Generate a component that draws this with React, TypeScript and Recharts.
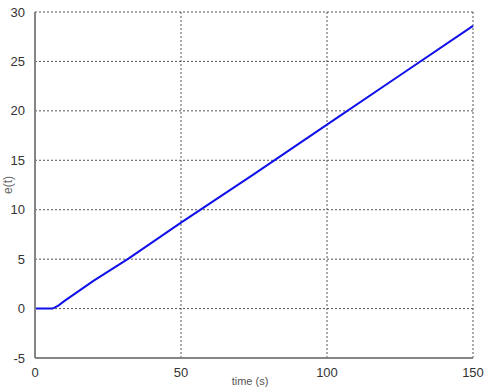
import React from 'react';
import { LineChart, Line, XAxis, YAxis, CartesianGrid } from 'recharts';

// tracking error over time
const TIME = [0, 6, 8, 10, 20, 32, 50, 75, 100, 125, 150];
const ERROR = [0, 0, 0.3, 0.75, 2.8, 5.05, 8.7, 13.6, 18.6, 23.6, 28.6];
const X_TICKS = [0, 50, 100, 150];
const Y_TICKS = [-5, 0, 5, 10, 15, 20, 25, 30];

const data = TIME.map((t, i) => ({ t, e: ERROR[i] }));

const FRAME = '#858585';
const tickStyle = { fontSize: 13, fill: '#333', fontFamily: 'Liberation Sans, Arial, sans-serif' };

function YLabel(props: any) {
  const vb = props.viewBox || {};
  const x = (vb.x ?? 0) + 12;
  const y = (vb.y ?? 0) + (vb.height ?? 0) / 2;
  return (
    <text x={x} y={y} transform={`rotate(-90 ${x} ${y})`} textAnchor="middle"
      fontSize={12} fill="#666" fontFamily="Liberation Sans, Arial, sans-serif">
      e(t)
    </text>
  );
}

function XLabel(props: any) {
  const vb = props.viewBox || {};
  const x = (vb.x ?? 0) + (vb.width ?? 0) / 2 - 4;
  const y = (vb.y ?? 0) + 27;
  return (
    <text x={x} y={y} textAnchor="middle" fontSize={11} fill="#555"
      fontFamily="Liberation Sans, Arial, sans-serif">
      time (s)
    </text>
  );
}

export default function App() {
  return (
    <div style={{ width: 484, height: 388, background: '#fff' }}>
      <style>{'body{margin:0}'}</style>
      <LineChart width={484} height={388} data={data}
        margin={{ top: 12, right: 11, bottom: 0, left: 0 }}>
        <CartesianGrid stroke="#555" strokeDasharray="2 2" />
        <XAxis dataKey="t" type="number" domain={[0, 150]} ticks={X_TICKS}
          height={30} tick={tickStyle} tickLine={false}
          axisLine={{ stroke: FRAME, strokeWidth: 2 }} tickMargin={4}
          label={{ content: XLabel }} />
        <XAxis xAxisId="top" dataKey="t" type="number" domain={[0, 150]}
          orientation="top" height={0} tick={false} tickLine={false}
          axisLine={{ stroke: FRAME, strokeWidth: 2 }} />
        <YAxis type="number" domain={[-5, 30]} ticks={Y_TICKS} width={35}
          tick={tickStyle} tickLine={false} interval={0}
          axisLine={{ stroke: FRAME, strokeWidth: 2 }} tickMargin={4}
          label={{ content: YLabel }} />
        <YAxis yAxisId="right" orientation="right" type="number" domain={[-5, 30]}
          width={0} tick={false} tickLine={false}
          axisLine={{ stroke: FRAME, strokeWidth: 2 }} />
        <Line type="linear" dataKey="e" stroke="#1010e8" strokeWidth={2}
          dot={false} isAnimationActive={false} />
      </LineChart>
    </div>
  );
}
